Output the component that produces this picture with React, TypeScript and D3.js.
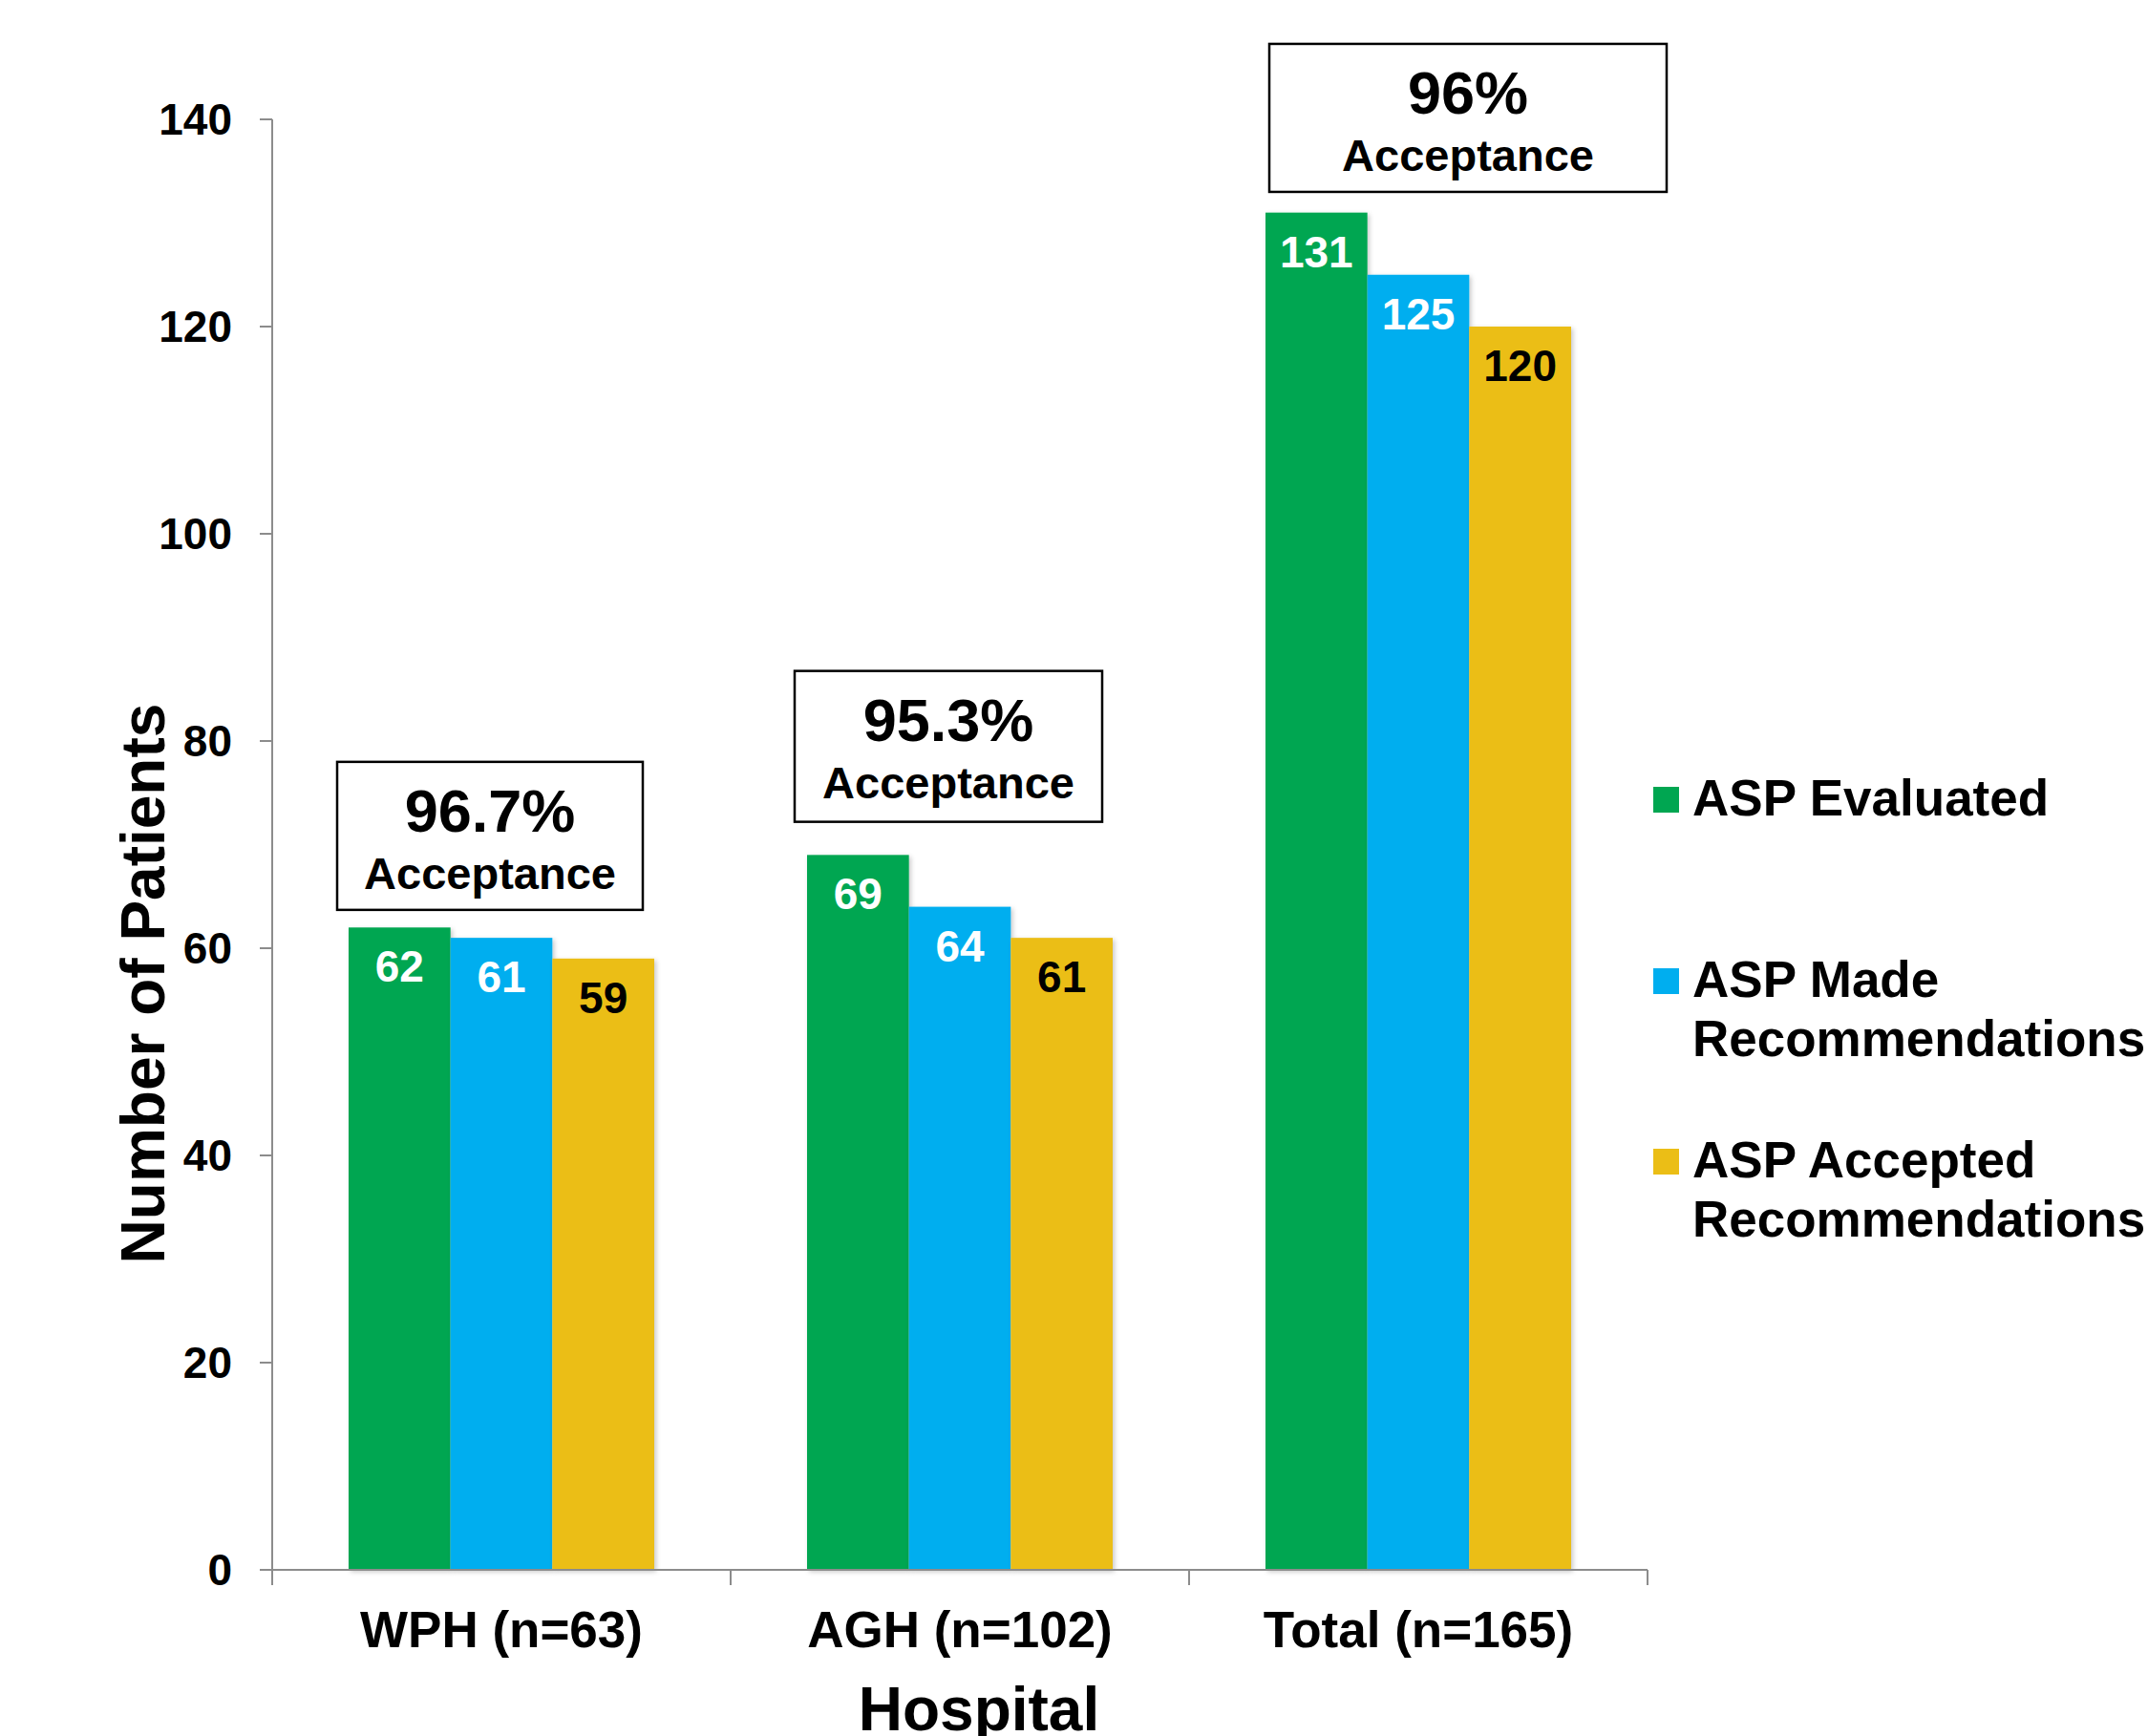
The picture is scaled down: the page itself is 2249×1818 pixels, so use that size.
import React from "react";
import * as d3 from "d3";

const categories = ["WPH (n=63)", "AGH (n=102)", "Total (n=165)"];
const seriesNames = ["ASP Evaluated", "ASP Made Recommendations", "ASP Accepted Recommendations"];
const legendLines = [["ASP Evaluated"], ["ASP Made", "Recommendations"], ["ASP Accepted", "Recommendations"]];
const evaluated = [62, 69, 131];
const made = [61, 64, 125];
const accepted = [59, 61, 120];
const acceptancePct = ["96.7%", "95.3%", "96%"];
const boxBottomValue = [63.7, 72.2, 133.0];
const yTicks = [0, 20, 40, 60, 80, 100, 120, 140];

const colors = ["#00A651", "#00AEEF", "#EBBE16"];
const labelColors = ["#ffffff", "#ffffff", "#000000"];
const boxLayout = [
  { dx: -12, w: 320, h: 155 },
  { dx: -12, w: 322, h: 158 },
  { dx: 52, w: 416, h: 155 },
];

const W = 2249;
const H = 1818;
const FONT = "'Liberation Sans', Arial, Helvetica, sans-serif";

export default function App() {
  const seriesValues = [evaluated, made, accepted];
  const x = d3.scaleBand<string>().domain(categories).range([285, 1725]).paddingInner(0).paddingOuter(0);
  const inner = d3
    .scaleBand<string>()
    .domain(seriesNames)
    .range([0, x.bandwidth()])
    .paddingInner(0)
    .paddingOuter(0.75);
  const y = d3.scaleLinear().domain([0, 140]).range([1644, 125]);
  const axisColor = "#8c8c8c";
  const boundaries = [...categories.map((c) => x(c) as number), x.range()[1]];

  return (
    <svg
      width={W}
      height={H}
      viewBox={`0 0 ${W} ${H}`}
      style={{ position: "absolute", left: 0, top: 0, background: "#fff" }}
      fontFamily={FONT}
      fontWeight="bold"
    >
      <defs>
        <filter id="shadow" x="-20%" y="-20%" width="140%" height="140%">
          <feDropShadow dx="2" dy="2" stdDeviation="2.5" floodColor="#000" floodOpacity="0.22" />
        </filter>
      </defs>
      <rect width={W} height={H} fill="#fff" />

      {/* bars */}
      {categories.map((c, ci) =>
        seriesNames.map((s, si) => {
          const v = seriesValues[si][ci];
          const bx = (x(c) as number) + (inner(s) as number);
          return (
            <rect
              key={c + s}
              x={bx}
              y={y(v)}
              width={inner.bandwidth()}
              height={y(0) - y(v)}
              fill={colors[si]}
              filter="url(#shadow)"
            />
          );
        })
      )}

      {/* bar labels */}
      {categories.map((c, ci) =>
        seriesNames.map((s, si) => {
          const v = seriesValues[si][ci];
          const bx = (x(c) as number) + (inner(s) as number) + inner.bandwidth() / 2;
          return (
            <text key={"l" + c + s} x={bx} y={y(v) + 57} textAnchor="middle" fontSize={46} fill={labelColors[si]}>
              {v}
            </text>
          );
        })
      )}

      {/* y axis */}
      <line x1={285} x2={285} y1={y(140)} y2={y(0)} stroke={axisColor} strokeWidth={2} />
      {yTicks.map((t) => (
        <g key={t}>
          <line x1={272} x2={285} y1={y(t)} y2={y(t)} stroke={axisColor} strokeWidth={2} />
          <text x={243} y={y(t) + 16} textAnchor="end" fontSize={46} fill="#000">
            {t}
          </text>
        </g>
      ))}

      {/* x axis */}
      <line x1={272} x2={x.range()[1]} y1={y(0)} y2={y(0)} stroke={axisColor} strokeWidth={2} />
      {boundaries.map((b, i) => (
        <line key={i} x1={b} x2={b} y1={y(0)} y2={y(0) + 16} stroke={axisColor} strokeWidth={2} />
      ))}
      {categories.map((c) => (
        <text key={c} x={(x(c) as number) + x.bandwidth() / 2} y={1725} textAnchor="middle" fontSize={53} fill="#000">
          {c}
        </text>
      ))}

      {/* axis titles */}
      <text x={1025} y={1812} textAnchor="middle" fontSize={64} fill="#000">
        Hospital
      </text>
      <text
        transform={`translate(172, ${1030}) rotate(-90)`}
        textAnchor="middle"
        fontSize={64}
        fill="#000"
      >
        Number of Patients
      </text>

      {/* acceptance boxes */}
      {categories.map((c, ci) => {
        const L = boxLayout[ci];
        const cx = (x(c) as number) + x.bandwidth() / 2 + L.dx;
        const bottom = y(boxBottomValue[ci]);
        const top = bottom - L.h;
        return (
          <g key={"box" + c}>
            <rect x={cx - L.w / 2} y={top} width={L.w} height={L.h} fill="#fff" stroke="#000" strokeWidth={2.5} />
            <text x={cx} y={top + 73} textAnchor="middle" fontSize={63} fill="#000">
              {acceptancePct[ci]}
            </text>
            <text x={cx} y={top + 133} textAnchor="middle" fontSize={47} fill="#000">
              Acceptance
            </text>
          </g>
        );
      })}

      {/* legend */}
      {legendLines.map((lines, i) => {
        const baseline = [854, 1044, 1233][i];
        return (
          <g key={"leg" + i}>
            <rect x={1731} y={baseline - 30} width={27} height={27} fill={colors[i]} />
            {lines.map((ln, j) => (
              <text key={j} x={1772} y={baseline + j * 62} fontSize={53} fill="#000">
                {ln}
              </text>
            ))}
          </g>
        );
      })}
    </svg>
  );
}
